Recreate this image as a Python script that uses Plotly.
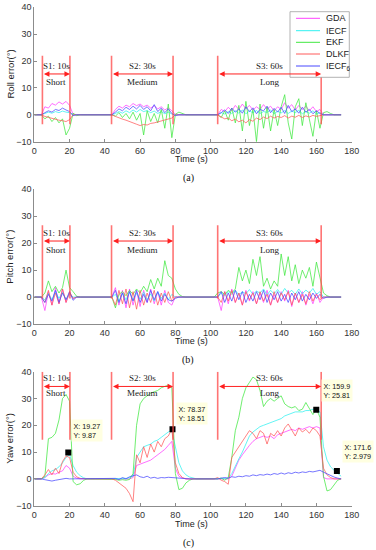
import plotly.graph_objects as go

# ---------------- data ----------------
T = list(range(0, 176, 2))  # time grid, s


def assemble(s1, s2, s3):
    # s1 covers t=4..28, s2 t=44..90, s3 t=104..174; quiet periods are zero
    out = [0, 0] + s1 + [0] * 7 + s2 + [0] * 6 + s3
    assert len(out) == len(T), len(out)
    return out


# Roll error (deg)
roll_gda = assemble(
    [0, 3.0, 2.5, 4.2, 3.6, 4.8, 4.0, 5.0, 3.5, 0.2, 0, 0, 0],
    [0, 2.0, 3.2, 2.5, 3.6, 3.0, 4.2, 3.4, 4.0, 3.0, 3.6, 2.5, 3.4, 2.2, 3.0, 1.8, 2.6, 1.5, 0.2, 0, 0, 0, 0, 0],
    [0, 2.0, 1.2, 2.8, 1.5, 3.5, 2.0, 4.0, 2.2, 3.5, 1.8, 3.0, 2.0, 3.8, 2.2, 3.2, 1.5, 3.0, 2.0, 4.5,
     2.5, 3.8, 1.8, 3.5, 2.0, 3.2, 1.5, 3.0, 1.2, 2.0, 0, 0, 0, 0, 0, 0])
roll_iecf = assemble(
    [0, 0.5, 1.0, 0.6, 1.2, 0.8, 1.4, 1.0, 0.8, 0.1, 0, 0, 0],
    [0, 0.5, 1.2, 0.6, 1.5, 0.8, 1.8, 1.0, 2.0, 1.2, 1.6, 0.8, 1.4, 0.5, 1.2, 0.4, 1.0, 0.3, 0, 0, 0, 0, 0, 0],
    [0, 0.8, 0.3, 1.2, 0.5, 1.5, 0.6, 1.8, 0.4, 1.4, 0.8, 1.6, 0.5, 1.2, 0.9, 1.8, 0.4, 1.3, 0.7, 1.6,
     0.5, 1.4, 0.8, 1.7, 0.4, 1.2, 0.6, 1.5, 0.3, 0.8, 0, 0, 0, 0, 0, 0])
roll_ekf = assemble(
    [0, -1.5, -0.5, -2.5, -1.0, -3.0, -1.5, -7.5, -5.0, 0.6, -0.3, 0, 0],
    [0, -0.5, 0.8, -1.0, 0.5, -1.5, 1.0, -2.0, 0.5, -7.5, 1.5, -2.5, 0.5, -3.0, 2.0, -5.0, 4.0, -8.5, 0.2, 1.0, 0.6, 0, 0, 0],
    [0, -1.0, 1.5, -2.0, 2.5, -3.0, 3.5, -6.0, 5.0, -4.0, 2.0, -10.0, 4.0, -5.0, 3.0, -6.0, 2.0, -4.0, 3.0, 7.5,
     -3.0, -9.0, 3.0, 6.0, -4.0, 4.5, -2.5, -8.0, 1.5, -5.0, 0.8, 1.2, 0.5, 0, 0, 0])
roll_dlkf = assemble(
    [0, -0.6, -1.0, -1.3, -1.6, -2.0, -2.2, -2.5, -1.8, 0, 0, 0, 0],
    [0, -0.6, -1.2, -1.6, -2.0, -2.6, -3.0, -3.5, -4.0, -3.6, -3.8, -3.2, -3.0, -2.6, -2.2, -2.0, -1.5, -1.2, 0, 0, 0, 0, 0, 0],
    [0, -0.8, -1.5, -1.2, -2.2, -1.6, -2.6, -2.0, -3.0, -1.8, -2.4, -1.2, -1.8, -0.8, -1.4, -0.5, -1.2, -0.6, -1.0, -0.3,
     -1.2, -0.5, -0.9, -0.2, -1.0, -0.4, -0.8, -0.2, -0.6, -0.3, 0, 0, 0, 0, 0, 0])
roll_iecf6 = assemble(
    [0, 0.8, 1.5, 1.0, 2.0, 1.6, 2.5, 1.8, 1.2, -0.3, 0, 0, 0],
    [0, 1.0, 2.2, 1.5, 2.8, 2.0, 3.2, 2.2, 3.5, 2.0, 3.0, 1.5, 3.8, 1.2, 2.5, 0.8, 2.2, 0.5, -0.3, 0, 0, 0, 0, 0],
    [0, 0.8, 1.8, 0.5, 2.5, 1.0, 2.2, 0.6, 3.0, 1.2, 2.6, 0.4, 2.0, 1.5, 3.2, 0.8, 2.4, 1.0, 2.8, 0.5,
     3.5, 1.2, 2.2, 0.6, 2.8, 1.0, 2.0, 0.4, 1.5, 0.5, 0, 0, 0, 0, 0, 0])

# Pitch error (deg)
pitch_gda = assemble(
    [0, -5.0, 2.0, -3.0, 3.5, -2.5, 3.0, -2.0, 1.5, -0.5, 0, 0, 0],
    [0, 3.5, -3.0, 2.5, -4.0, 3.0, -3.0, 2.0, -3.5, 2.5, -2.0, 3.0, -2.5, 2.0, -3.0, 2.5, -2.0, -3.0, 0.2, 0, 0, 0, 0, 0],
    [0, -5.0, 2.0, -2.5, 3.0, -2.0, 1.5, -3.0, 2.5, -1.5, 2.0, -2.5, 1.5, -2.0, 2.5, -3.0, 1.0, -2.0, 2.0, -1.5,
     2.5, -3.5, 1.5, -2.0, 2.0, -3.0, 1.0, -2.5, 1.5, -2.0, 0, 0, 0, 0, 0, 0])
pitch_iecf = assemble(
    [0, -1.0, 1.5, -1.0, 2.0, -0.5, 1.8, -0.8, 1.0, 0, 0, 0, 0],
    [0, 1.0, -1.5, 1.5, -1.0, 2.0, -1.2, 1.5, -0.8, 1.8, -1.0, 1.2, -1.5, 2.0, -0.5, 1.5, -1.0, 1.0, 0, 0, 0, 0, 0, 0],
    [0, 1.5, 0.5, 2.0, 1.0, 2.5, 0.8, 2.0, 1.2, 2.8, 1.0, 2.2, 1.5, 3.0, 0.8, 2.5, 1.2, 2.8, 1.0, 3.2,
     1.5, 2.5, 1.0, 3.0, 1.2, 2.6, 1.5, 3.2, 1.0, 2.0, 0, 0, 0, 0, 0, 0])
pitch_ekf = assemble(
    [0, 1.5, 6.0, 2.0, 4.0, 1.5, 3.5, 10.0, 3.5, 2.0, 0.3, 0, 0],
    [0, -4.0, 1.0, 2.0, 0.5, 2.5, 1.0, 3.0, 1.5, 4.0, 2.0, 6.5, 3.0, 7.0, 4.0, 13.5, 8.0, 7.0, 3.0, 1.0, 0.2, 0, 0, 0],
    [1.5, 2.0, 1.0, 2.5, 1.5, 3.0, 11.0, 6.0, 10.0, 5.0, 14.0, 8.0, 15.0, 4.0, 7.0, 3.0, 6.0, 4.0, 16.0, 8.0,
     15.0, 6.0, 12.0, 5.0, 10.0, 7.0, 11.0, 4.0, 13.0, 7.0, 1.5, 0.5, 0, 0, 0, 0])
pitch_dlkf = assemble(
    [0, -2.0, 2.5, -3.0, 1.5, -2.5, 3.0, -2.0, 2.0, -0.5, 0, 0, 0],
    [0, -3.0, 2.5, -2.5, 3.0, -4.0, 2.0, -4.5, 2.5, -3.0, 1.5, -2.0, 2.5, -3.0, 1.5, -2.0, 2.0, -1.5, 0, 0, 0, 0, 0, 0],
    [0, -2.0, 2.0, -1.5, 2.5, -2.0, 1.5, -3.0, 2.0, -1.0, 1.5, -2.5, 2.0, -1.5, 1.0, -3.0, 2.0, -2.0, 1.5, -1.0,
     2.0, -3.0, 1.5, -2.0, 1.0, -2.5, 2.0, -1.5, 1.0, -1.0, 0, 0, 0, 0, 0, 0])
pitch_iecf6 = assemble(
    [0, -2.0, 1.0, -1.5, 2.5, -2.0, 1.5, -1.0, 2.0, -1.2, 0, 0, 0],
    [0, 2.5, -2.0, 1.5, -2.5, 2.0, -1.5, 2.5, -2.0, 1.0, -2.0, 2.5, -1.0, 2.0, -1.5, 1.0, -1.0, -1.5, -0.5, 0, 0, 0, 0, 0],
    [0, 2.0, -2.0, 1.5, -1.5, 2.5, -1.0, 2.0, -2.0, 1.0, -1.5, 2.0, -1.0, 2.5, -2.0, 1.5, -1.0, 2.0, -1.5, 1.0,
     -2.0, 1.5, -1.0, 2.0, -1.5, 1.0, -1.0, 1.5, -0.5, 1.0, -0.5, 0, 0, 0, 0, 0])

# Yaw error (deg)
yaw_gda = assemble(
    [0, 0.5, 1.5, 2.0, 1.8, 2.5, 3.0, 5.0, 4.0, 1.0, 0.3, 0, 0],
    [0, 0, 0, 0, 0, 0, 0.5, 5.0, 5.5, 6.0, 6.5, 7.0, 8.0, 9.0, 10.0, 11.0, 12.5, 14.0, 4.0, 1.0, 0.3, 0, 0, 0],
    [0, 0, 0, 0, 1.0, 4.0, 7.0, 9.0, 11.0, 12.5, 14.0, 15.0, 15.5, 16.0, 15.5, 16.0, 15.0, 16.5, 17.0, 17.5,
     18.0, 18.5, 18.0, 19.0, 18.5, 19.0, 19.5, 19.0, 19.5, 19.0, 0.5, 0, 0, 0, 0, 0])
yaw_iecf = assemble(
    [0, 0.5, 2.0, 3.0, 3.5, 4.5, 6.0, 8.0, 9.0, 5.0, 2.5, 1.2, 0.4],
    [0, 0, 0, 0, 0.2, 0.5, 1.0, 8.0, 10.0, 12.0, 12.5, 13.0, 14.0, 14.5, 15.5, 16.5, 17.5, 18.0, 12.0, 6.0, 3.0, 1.5, 0.7, 0.2],
    [0, 0, 0, 0.2, 2.0, 5.0, 7.5, 10.0, 13.0, 16.0, 17.5, 18.5, 19.5, 20.0, 20.5, 21.0, 21.5, 22.0, 22.5, 23.5,
     24.0, 24.5, 25.0, 25.0, 25.0, 25.5, 25.5, 26.0, 26.0, 25.0, 12.0, 7.0, 4.5, 3.2, 2.0, 1.0])
yaw_ekf = assemble(
    [0, 1.0, 15.0, 15.5, 17.0, 22.0, 30.0, 31.5, 29.0, -1.0, -2.2, -1.8, -0.5],
    [0, -0.2, -0.5, -0.3, -0.5, -0.2, 2.0, 20.0, 28.0, 30.0, 31.0, 32.0, 32.5, 33.0, 34.0, 34.5, 35.0, 34.0, 2.0, -4.0, -3.5, -1.5, -0.5, 0],
    [0, 0.3, -0.5, 0.5, 8.0, 18.0, 23.0, 30.0, 34.0, 36.0, 38.0, 37.0, 33.0, 27.0, 29.0, 30.0, 29.0, 30.0, 31.0, 28.0,
     27.0, 26.5, 27.0, 25.5, 26.0, 28.5, 26.0, 24.0, 26.0, 23.0, 1.0, -4.5, -4.0, -2.0, -0.5, 0])
yaw_dlkf = assemble(
    [0, 1.5, 3.5, 1.5, 4.0, 2.0, 6.5, 8.5, 8.0, 2.5, 0.8, 0.2, 0],
    [0, -0.5, -1.5, -2.5, -3.5, -5.5, -8.5, 9.0, 6.0, 12.0, 8.0, 13.0, 10.0, 14.0, 12.0, 15.0, 16.0, 18.5, 6.0, 2.0, 0.5, 0, 0, 0],
    [0.5, -0.5, -1.0, -2.0, 8.0, 10.0, 12.0, 14.0, 16.0, 18.0, 17.0, 15.0, 18.0, 17.0, 13.0, 17.0, 16.0, 18.0, 16.0, 19.0,
     20.5, 18.0, 16.0, 19.0, 17.5, 18.5, 17.0, 19.0, 18.0, 16.0, 4.0, 1.5, 0.5, 0, 0, 0])
yaw_iecf6 = assemble(
    [0, -0.3, -0.6, -0.8, -0.5, -0.3, 0, 0.2, 0, 0, 0, 0, 0],
    [0, 0.2, -0.3, 0.5, 0, 0.8, 1.2, 1.5, 0.8, 0.5, 1.0, 0.3, 0.6, 0.2, 0.5, 0.4, 0.6, 0.5, 0.3, 0.1, 0, 0, 0, 0],
    [0, 0.3, 0.5, 0.3, 0.8, 0.6, 1.0, 0.8, 1.2, 1.0, 1.5, 1.2, 1.6, 1.4, 1.8, 1.5, 2.0, 1.7, 2.2, 1.8,
     2.3, 2.0, 2.5, 2.2, 2.6, 2.4, 2.8, 2.6, 3.0, 3.2, 2.5, 1.8, 1.2, 0.7, 0.3, 0])

series_names = ["GDA", "IECF", "EKF", "DLKF", "IECF<sub>6</sub>"]
series_colors = ["#ff40ff", "#30f0f0", "#40e840", "#ff5a5a", "#4848ff"]

seg_start = [4.6, 43.8, 104.0]
seg_end = [20.2, 78.7, 162.7]
seg_labels = ["S1: 10s", "S2: 30s", "S3: 60s"]
seg_kinds = ["Short", "Medium", "Long"]

tip_x = [19.27, 78.37, 159.9, 171.6]
tip_y = [9.87, 18.51, 25.81, 2.979]
tip_text = ["X: 19.27<br>Y: 9.87", "X: 78.37<br>Y: 18.51", "X: 159.9<br>Y: 25.81", "X: 171.6<br>Y: 2.979"]

x_ticks = [0, 20, 40, 60, 80, 100, 120, 140, 160, 180]
y_ticks = [-10, 0, 10, 20, 30, 40]

# ---------------- layout geometry ----------------
W, H = 376, 550


def px(x):
    return x / W


def py(y):
    return 1 - y / H


panels = [
    dict(data=[roll_gda, roll_iecf, roll_ekf, roll_dlkf, roll_iecf6], top=7.3, bot=141.7,
         ytitle="Roll error(°)", line=(-3.5, 22.0), arrow=15.2, lab=18.0, kind=12.3,
         xt=159, cap="(a)", capy=178),
    dict(data=[pitch_gda, pitch_iecf, pitch_ekf, pitch_dlkf, pitch_iecf6], top=189.3, bot=324.0,
         ytitle="Pitch error(°)", line=(-0.5, 26.7), arrow=20.8, lab=23.7, kind=17.5,
         xt=341, cap="(b)", capy=360),
    dict(data=[yaw_gda, yaw_iecf, yaw_ekf, yaw_dlkf, yaw_iecf6], top=371.7, bot=505.7,
         ytitle="Yaw error(°)", line=(14.6, 40.0), arrow=34.5, lab=37.6, kind=32.0,
         xt=524, cap="(c)", capy=543),
]

SANS = "Liberation Sans, Arial, sans-serif"
SERIF = "Liberation Serif, Times New Roman, serif"

fig = go.Figure()
shapes = []
annotations = []
layout_axes = {}

for i, p in enumerate(panels):
    n = "" if i == 0 else str(i + 1)
    xa, ya = "x" + n, "y" + n
    for vals, name, col in zip(p["data"], series_names, series_colors):
        fig.add_trace(go.Scatter(x=T, y=vals, mode="lines", name=name,
                                 line=dict(color=col, width=0.75),
                                 showlegend=False, xaxis=xa, yaxis=ya))
    axis_common = dict(showgrid=False, zeroline=False, showline=True, linecolor="#8c8c8c",
                       linewidth=1, ticks="inside", ticklen=3, tickcolor="#8c8c8c",
                       automargin=False,
                       tickfont=dict(family=SANS, size=9, color="#333333"))
    layout_axes["xaxis" + n] = dict(axis_common, domain=[px(34.3), px(351.7)], range=[0, 180],
                                    tickvals=x_ticks, anchor=ya)
    layout_axes["yaxis" + n] = dict(axis_common, domain=[py(p["bot"]), py(p["top"])], range=[-10, 40],
                                    tickvals=y_ticks, anchor=xa)
    # segment markers
    for s0, s1, lab, kind in zip(seg_start, seg_end, seg_labels, seg_kinds):
        for xv in (s0, s1):
            shapes.append(dict(type="line", xref=xa, yref=ya, x0=xv, x1=xv,
                               y0=p["line"][0], y1=p["line"][1],
                               line=dict(color="rgba(255,70,70,0.75)", width=1.6)))
        annotations.append(dict(xref=xa, yref=ya, axref=xa, ayref=ya, x=s1, y=p["arrow"],
                                ax=s0, ay=p["arrow"], text="", showarrow=True,
                                arrowside="end+start", arrowhead=2, arrowsize=1.1,
                                arrowwidth=1, arrowcolor="#ff2020", standoff=0, startstandoff=0))
        mid = (s0 + s1) / 2
        annotations.append(dict(xref=xa, yref=ya, x=mid, y=p["lab"], text=lab, showarrow=False,
                                xanchor="center", yanchor="middle",
                                font=dict(family=SERIF, size=9, color="#222222")))
        annotations.append(dict(xref=xa, yref=ya, x=mid, y=p["kind"], text=kind, showarrow=False,
                                xanchor="center", yanchor="middle",
                                font=dict(family=SERIF, size=9, color="#222222")))
    # axis titles
    annotations.append(dict(xref="paper", yref="paper", x=px(10), y=py((p["top"] + p["bot"]) / 2),
                            text=p["ytitle"], textangle=-90, showarrow=False,
                            xanchor="center", yanchor="middle",
                            font=dict(family=SANS, size=9.5, color="#222222")))
    annotations.append(dict(xref="paper", yref="paper", x=px(192), y=py(p["xt"]),
                            text="Time (s)", showarrow=False,
                            xanchor="center", yanchor="middle",
                            font=dict(family=SANS, size=9, color="#222222")))
    annotations.append(dict(xref="paper", yref="paper", x=px(188), y=py(p["capy"]),
                            text=p["cap"], showarrow=False,
                            xanchor="center", yanchor="middle",
                            font=dict(family=SERIF, size=10, color="#111111")))

# data tips on yaw panel
fig.add_trace(go.Scatter(x=tip_x, y=tip_y, mode="markers", showlegend=False,
                         marker=dict(symbol="square", size=6, color="black"),
                         xaxis="x3", yaxis="y3"))
tip_shift = [(3, 10), (3.5, 4.5), (4.5, 8), (5, 8)]
for tx, ty, tt, (dx, dy) in zip(tip_x, tip_y, tip_text, tip_shift):
    annotations.append(dict(xref="x3", yref="y3", x=tx, y=ty, text=tt, showarrow=False,
                            xanchor="left", yanchor="bottom", xshift=dx, yshift=dy, align="left",
                            bgcolor="#ffffe1", borderpad=1.5,
                            font=dict(family=SANS, size=7.2, color="#111111")))

# custom legend box in panel (a)
shapes.append(dict(type="rect", xref="paper", yref="paper", x0=px(290), x1=px(349.3),
                   y0=py(77.3), y1=py(11.7), line=dict(color="#a0a0a0", width=0.8),
                   fillcolor="white"))
leg_y = [18.3, 30.7, 42.3, 54.0, 66.0]
for name, col, yy in zip(series_names, series_colors, leg_y):
    shapes.append(dict(type="line", xref="paper", yref="paper", x0=px(296), x1=px(320),
                       y0=py(yy), y1=py(yy), line=dict(color=col, width=1)))
    annotations.append(dict(xref="paper", yref="paper", x=px(324), y=py(yy), text=name,
                            xanchor="left", yanchor="middle", showarrow=False,
                            font=dict(family=SANS, size=9, color="#222222")))

fig.update_layout(width=W, height=H, margin=dict(l=0, r=0, t=0, b=0, autoexpand=False),
                  paper_bgcolor="white", plot_bgcolor="white", showlegend=False,
                  hovermode=False,
                  shapes=shapes, annotations=annotations, **layout_axes)

# remove the default 8px page margin so the 376x550 figure fills the window exactly
fig.write_html("out.html",
               config={"displayModeBar": False, "staticPlot": True},
               post_script="document.body.style.margin='0px';"
                           "document.documentElement.style.overflow='hidden';")
